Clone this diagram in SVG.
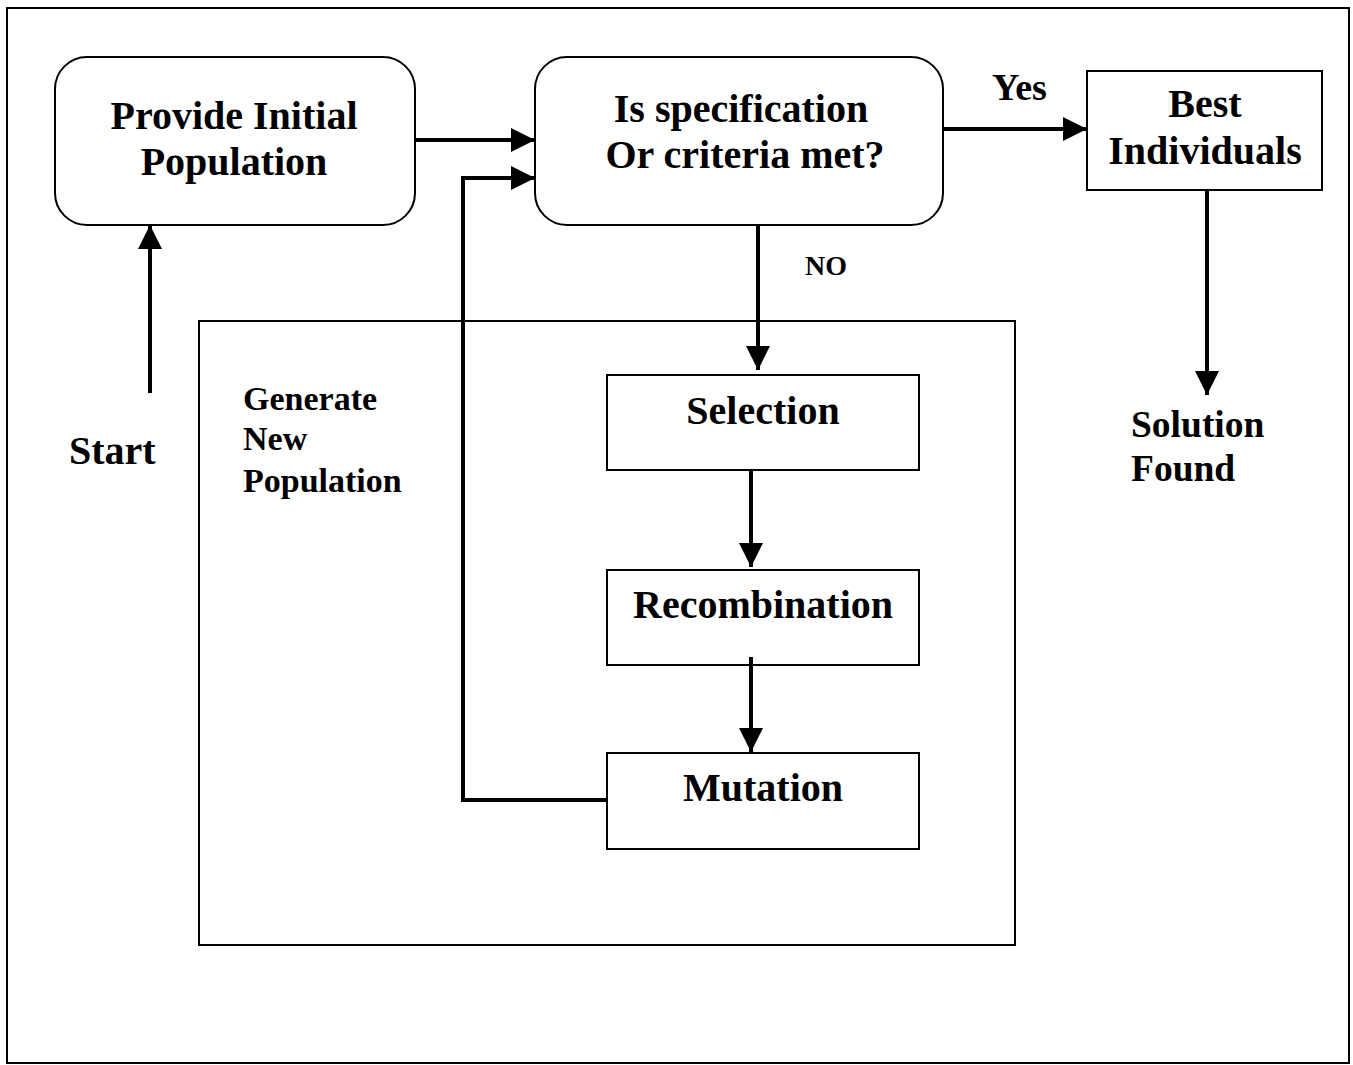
<svg xmlns="http://www.w3.org/2000/svg" width="1353" height="1065" viewBox="0 0 1353 1065">
<defs>
<marker id="ah" markerWidth="6" markerHeight="6" refX="6" refY="3" orient="auto" markerUnits="strokeWidth">
<path d="M0,0 L6,3 L0,6 Z" fill="#000"/>
</marker>
<style>
text{font-family:"Liberation Serif","Times New Roman",serif;font-weight:bold;fill:#000}
.box{fill:#fff;stroke:#000;stroke-width:2}
.c{stroke:#000;stroke-width:4;fill:none}
.big{font-size:40px}
.sol{font-size:37.5px}
.sm{font-size:34px}
</style>
</defs>
<rect x="0" y="0" width="1353" height="1065" fill="#fff"/>
<rect x="7" y="8" width="1342" height="1055" fill="none" stroke="#000" stroke-width="2"/>
<g id="generate">
<rect class="box" x="199" y="321" width="816" height="624"/>
<text class="sm" x="243" y="410">Generate</text>
<text class="sm" x="243" y="450">New</text>
<text class="sm" x="243" y="492">Population</text>
</g>
<g id="provide">
<rect class="box" x="55" y="57" width="360" height="168" rx="32"/>
<text class="big" x="234" y="129" text-anchor="middle">Provide Initial</text>
<text class="big" x="234" y="175" text-anchor="middle">Population</text>
</g>
<g id="criteria">
<rect class="box" x="535" y="57" width="408" height="168" rx="32"/>
<text class="big" x="741" y="122" text-anchor="middle">Is specification</text>
<text class="big" x="745" y="168" text-anchor="middle">Or criteria met?</text>
</g>
<g id="best">
<rect class="box" x="1087" y="71" width="235" height="119"/>
<text class="big" x="1205" y="117" text-anchor="middle">Best</text>
<text class="big" x="1205" y="164" text-anchor="middle">Individuals</text>
</g>
<g id="selection">
<rect class="box" x="607" y="375" width="312" height="95"/>
<text class="big" x="763" y="424" text-anchor="middle">Selection</text>
</g>
<g id="recombination">
<rect class="box" x="607" y="570" width="312" height="95"/>
<text class="big" x="763" y="618" text-anchor="middle">Recombination</text>
</g>
<g id="mutation">
<rect class="box" x="607" y="753" width="312" height="96"/>
<text class="big" x="763" y="801" text-anchor="middle">Mutation</text>
</g>
<g id="start"><text class="big" x="69" y="464">Start</text></g>
<g id="solution">
<text class="sol" x="1131" y="437">Solution</text>
<text class="sol" x="1131" y="481">Found</text>
</g>
<g id="connectors">
<line class="c" x1="415" y1="140" x2="535" y2="140" marker-end="url(#ah)"/>
<polyline class="c" points="607,800 463,800 463,178 535,178" marker-end="url(#ah)"/>
<line class="c" x1="943" y1="129" x2="1087" y2="129" marker-end="url(#ah)"/>
<text x="992" y="100" style="font-size:38px">Yes</text>
<line class="c" x1="1207" y1="190" x2="1207" y2="395" marker-end="url(#ah)"/>
<line class="c" x1="150" y1="393" x2="150" y2="225" marker-end="url(#ah)"/>
<line class="c" x1="758" y1="225" x2="758" y2="370" marker-end="url(#ah)"/>
<text x="805" y="275" style="font-size:28px">NO</text>
<line class="c" x1="751" y1="470" x2="751" y2="567" marker-end="url(#ah)"/>
<line class="c" x1="751" y1="657" x2="751" y2="752" marker-end="url(#ah)"/>
</g>
</svg>
